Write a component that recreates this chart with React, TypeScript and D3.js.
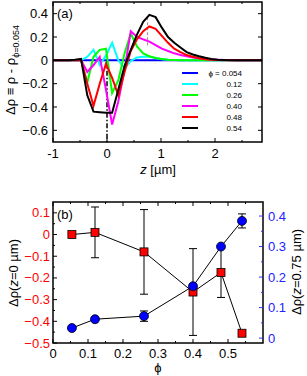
import React from "react";
import * as d3 from "d3";

// ---------- Panel (a) data ----------
const zGrid = [-1.0, -0.7, -0.595, -0.48, -0.365, -0.25, -0.135, -0.02, 0.095, 0.21, 0.325, 0.44, 0.555, 0.67, 0.785, 0.9, 1.015, 1.13, 1.245, 1.36, 1.475, 1.59, 1.705, 1.82, 1.935, 2.05, 2.2, 2.4, 2.6, 2.87];
const rho054 = [0, 0, 0, 0, 0, 0, 0, 0, 0, 0, 0, 0, 0, 0, 0, 0, 0, 0, 0, 0, 0, 0, 0, 0, 0, 0, 0, 0, 0, 0];
const rho012 = [0, 0, 0, 0, 0.03, 0.09, -0.04, 0.04, 0.15, 0.0, -0.07, -0.005, 0.025, 0.03, 0.03, 0.02, 0.01, 0.005, 0.002, 0, 0, 0, 0, 0, 0, 0, 0, 0, 0, 0];
const rho026 = [0, 0, 0, 0, -0.19, 0.03, 0.09, 0.1, -0.28, -0.17, 0.06, 0.23, 0.12, 0.06, 0.035, 0.02, 0.012, 0.006, 0.003, 0.001, 0, 0, 0, 0, 0, 0, 0, 0, 0, 0];
const rho040 = [0, 0, 0, 0, -0.1, -0.04, 0.03, -0.25, -0.55, -0.35, -0.08, 0.25, 0.2, 0.18, 0.16, 0.13, 0.1, 0.08, 0.06, 0.045, 0.035, 0.025, 0.018, 0.012, 0.008, 0.005, 0.002, 0, 0, 0];
const rho048 = [0, 0, 0, 0, -0.2, -0.39, -0.2, -0.03, -0.15, -0.3, -0.1, 0.08, 0.18, 0.25, 0.29, 0.27, 0.21, 0.15, 0.1, 0.07, 0.045, 0.03, 0.018, 0.01, 0.005, 0.002, 0, 0, 0, 0];
const rho054b = [0, 0, 0.005, 0.012, -0.3, -0.44, -0.445, -0.45, -0.45, -0.25, -0.05, 0.09, 0.22, 0.33, 0.39, 0.37, 0.28, 0.2, 0.15, 0.11, 0.07, 0.05, 0.035, 0.022, 0.012, 0.006, 0.002, 0, 0, 0];
const seriesLabels = ["ϕ = 0.054", "0.12", "0.26", "0.40", "0.48", "0.54"];
const seriesColors = ["#0000ff", "#00ffff", "#00ff00", "#ff00ff", "#ff0000", "#000000"];
const seriesValues = [rho054, rho012, rho026, rho040, rho048, rho054b];
const xTicksA = [-1, 0, 1, 2];
const xMinorA = [-0.5, 0.5, 1.5, 2.5];
const yTicksA = [-0.6, -0.4, -0.2, 0, 0.2, 0.4];

// ---------- Panel (b) data ----------
const phiVals = [0.054, 0.12, 0.26, 0.40, 0.48, 0.54];
const rhoAt0 = [0.0, 0.01, -0.08, -0.265, -0.175, -0.455];
const rhoAt0Err = [0, 0.117, 0.195, 0.2, 0.115, 0];
const rhoAt075 = [0.033, 0.062, 0.072, 0.17, 0.3, 0.384];
const rhoAt075Err = [0, 0, 0.017, 0, 0, 0.023];
const xTicksB = [0, 0.1, 0.2, 0.3, 0.4, 0.5];
const yTicksBL = [-0.5, -0.4, -0.3, -0.2, -0.1, 0, 0.1];
const yTicksBR = [0, 0.1, 0.2, 0.3, 0.4];

const FONT = "'Liberation Sans', Arial, Helvetica, sans-serif";

export default function App() {
  // Panel (a) scales
  const xA = d3.scaleLinear().domain([-1, 2.87]).range([53, 262]);
  const yA = d3.scaleLinear().domain([-0.7, 0.5]).range([142, 2]);
  const lineA = d3
    .line<number>()
    .x((_, i) => xA(zGrid[i]))
    .y((d) => yA(d));

  // Panel (b) scales
  const xB = d3.scaleLinear().domain([0, 0.6]).range([53, 263]);
  const yBL = d3.scaleLinear().domain([-0.5, 0.15]).range([343, 202]);
  const yBR = d3.scaleLinear().domain([-0.016, 0.446]).range([343, 202]);
  const lineBL = d3
    .line<number>()
    .x((_, i) => xB(phiVals[i]))
    .y((d) => yBL(d));
  const lineBR = d3
    .line<number>()
    .x((_, i) => xB(phiVals[i]))
    .y((d) => yBR(d));

  const xMinorB = d3.range(0.05, 0.6, 0.1);
  const yMinorBL = d3.range(-0.45, 0.15, 0.1);
  const yMinorBR = d3.range(0.05, 0.45, 0.1);

  const [ax0, ax1] = xA.range();
  const [ay0, ay1] = [yA(0.5), yA(-0.7)];
  const [bx0, bx1] = xB.range();
  const [by0, by1] = [202, 343];

  const legendRows = [73, 84, 95, 106, 117, 128];

  return (
    <svg width={307} height={376} style={{ position: "absolute", left: 0, top: 0 }} fontFamily={FONT}>
      <rect x={0} y={0} width={307} height={376} fill="#fff" />
      {/* ================= Panel (a) ================= */}
      <defs>
        <clipPath id="clipA">
          <rect x={ax0} y={ay0} width={ax1 - ax0} height={ay1 - ay0} />
        </clipPath>
      </defs>
      {/* reference lines */}
      <line x1={xA(0)} x2={xA(0)} y1={yA(0)} y2={yA(-0.7)} stroke="#000" strokeWidth={1.5} strokeDasharray="5,2,1.5,2" />
      <line x1={xA(0.75)} x2={xA(0.75)} y1={yA(0.37)} y2={yA(0.12)} stroke="#b09090" strokeWidth={1.2} strokeDasharray="3,2" />
      <g clipPath="url(#clipA)">
        {seriesValues.map((vals, k) => (
          <path key={k} d={lineA(vals) || ""} fill="none" stroke={seriesColors[k]} strokeWidth={2} strokeLinejoin="miter" />
        ))}
      </g>
      {/* frame */}
      <rect x={ax0} y={ay0} width={ax1 - ax0} height={ay1 - ay0} fill="none" stroke="#000" strokeWidth={1.5} />
      {/* ticks */}
      {xTicksA.map((t) => (
        <g key={"xa" + t}>
          <line x1={xA(t)} x2={xA(t)} y1={ay1} y2={ay1 - 4} stroke="#000" />
          <line x1={xA(t)} x2={xA(t)} y1={ay0} y2={ay0 + 4} stroke="#000" />
          <text x={xA(t)} y={158} fontSize={13} textAnchor="middle">{t === -1 ? "-1" : t}</text>
        </g>
      ))}
      {xMinorA.map((t) => (
        <g key={"xma" + t}>
          <line x1={xA(t)} x2={xA(t)} y1={ay1} y2={ay1 - 2} stroke="#000" />
          <line x1={xA(t)} x2={xA(t)} y1={ay0} y2={ay0 + 2} stroke="#000" />
        </g>
      ))}
      {yTicksA.map((t) => (
        <g key={"ya" + t}>
          <line x1={ax0} x2={ax0 + 4} y1={yA(t)} y2={yA(t)} stroke="#000" />
          <line x1={ax1} x2={ax1 - 4} y1={yA(t)} y2={yA(t)} stroke="#000" />
          <text x={48} y={yA(t) + 4.5} fontSize={13} textAnchor="end">{t === 0 ? "0" : d3.format(".1f")(t)}</text>
        </g>
      ))}
      <text x={57} y={18} fontSize={13}>(a)</text>
      {/* axis titles */}
      <text x={158} y={174} fontSize={13} textAnchor="middle">
        <tspan fontStyle="italic">z</tspan> [µm]
      </text>
      <text transform="translate(15,70) rotate(-90)" fontSize={13} textAnchor="middle">
        Δρ ≡ ρ - ρ<tspan fontSize={9} dy={4}>ϕ=0.054</tspan>
      </text>
      {/* legend */}
      {seriesLabels.map((lab, k) => (
        <g key={"lg" + k}>
          <line x1={182} x2={198} y1={legendRows[k]} y2={legendRows[k]} stroke={seriesColors[k]} strokeWidth={2} />
          <text x={242} y={legendRows[k] + 3} fontSize={8} textAnchor="end">{lab}</text>
        </g>
      ))}

      {/* ================= Panel (b) ================= */}
      {/* error bars */}
      {phiVals.map((p, i) =>
        rhoAt0Err[i] > 0 ? (
          <g key={"e0" + i} stroke="#000" strokeWidth={1}>
            <line x1={xB(p)} x2={xB(p)} y1={yBL(rhoAt0[i] - rhoAt0Err[i])} y2={yBL(rhoAt0[i] + rhoAt0Err[i])} />
            <line x1={xB(p) - 4} x2={xB(p) + 4} y1={yBL(rhoAt0[i] - rhoAt0Err[i])} y2={yBL(rhoAt0[i] - rhoAt0Err[i])} />
            <line x1={xB(p) - 4} x2={xB(p) + 4} y1={yBL(rhoAt0[i] + rhoAt0Err[i])} y2={yBL(rhoAt0[i] + rhoAt0Err[i])} />
          </g>
        ) : null
      )}
      {phiVals.map((p, i) =>
        rhoAt075Err[i] > 0 ? (
          <g key={"e75" + i} stroke="#000" strokeWidth={1}>
            <line x1={xB(p)} x2={xB(p)} y1={yBR(rhoAt075[i] - rhoAt075Err[i])} y2={yBR(rhoAt075[i] + rhoAt075Err[i])} />
            <line x1={xB(p) - 4} x2={xB(p) + 4} y1={yBR(rhoAt075[i] - rhoAt075Err[i])} y2={yBR(rhoAt075[i] - rhoAt075Err[i])} />
            <line x1={xB(p) - 4} x2={xB(p) + 4} y1={yBR(rhoAt075[i] + rhoAt075Err[i])} y2={yBR(rhoAt075[i] + rhoAt075Err[i])} />
          </g>
        ) : null
      )}
      <path d={lineBL(rhoAt0) || ""} fill="none" stroke="#000" strokeWidth={1} />
      <path d={lineBR(rhoAt075) || ""} fill="none" stroke="#000" strokeWidth={1} />
      {phiVals.map((p, i) => (
        <rect key={"sq" + i} x={xB(p) - 4} y={yBL(rhoAt0[i]) - 4} width={8} height={8} fill="#ff0000" stroke="#000" strokeWidth={0.8} />
      ))}
      {phiVals.map((p, i) => (
        <circle key={"ci" + i} cx={xB(p)} cy={yBR(rhoAt075[i])} r={4.5} fill="#0000ff" stroke="#000" strokeWidth={0.8} />
      ))}
      {/* frame */}
      <rect x={bx0} y={by0} width={bx1 - bx0} height={by1 - by0} fill="none" stroke="#000" strokeWidth={1.5} />
      {xTicksB.map((t) => (
        <g key={"xb" + t}>
          <line x1={xB(t)} x2={xB(t)} y1={by1} y2={by1 - 4} stroke="#000" />
          <line x1={xB(t)} x2={xB(t)} y1={by0} y2={by0 + 4} stroke="#000" />
          <text x={xB(t)} y={358} fontSize={13} textAnchor="middle">{t === 0 ? "0" : d3.format(".1f")(t)}</text>
        </g>
      ))}
      {xMinorB.map((t) => (
        <g key={"xmb" + t}>
          <line x1={xB(t)} x2={xB(t)} y1={by1} y2={by1 - 2} stroke="#000" />
          <line x1={xB(t)} x2={xB(t)} y1={by0} y2={by0 + 2} stroke="#000" />
        </g>
      ))}
      {yTicksBL.map((t) => (
        <g key={"ybl" + t}>
          <line x1={bx0} x2={bx0 + 4} y1={yBL(t)} y2={yBL(t)} stroke="#000" />
          <text x={50} y={yBL(t) + 4.5} fontSize={13} textAnchor="end" fill="#ff0000">{t === 0 ? "0" : d3.format(".1f")(t)}</text>
        </g>
      ))}
      {yMinorBL.map((t) => (
        <line key={"ymbl" + t} x1={bx0} x2={bx0 + 2} y1={yBL(t)} y2={yBL(t)} stroke="#000" />
      ))}
      {yTicksBR.map((t) => (
        <g key={"ybr" + t}>
          <line x1={bx1} x2={bx1 - 4} y1={yBR(t)} y2={yBR(t)} stroke="#3333ff" />
          <text x={268} y={yBR(t) + 4.5} fontSize={13} textAnchor="start" fill="#2222ff">{t === 0 ? "0" : d3.format(".1f")(t)}</text>
        </g>
      ))}
      {yMinorBR.map((t) => (
        <line key={"ymbr" + t} x1={bx1} x2={bx1 - 2} y1={yBR(t)} y2={yBR(t)} stroke="#3333ff" />
      ))}
      <text x={57} y={219} fontSize={13}>(b)</text>
      <text x={158} y={372} fontSize={13} textAnchor="middle">ϕ</text>
      <text transform="translate(18,273) rotate(-90)" fontSize={13} textAnchor="middle">
        Δρ(<tspan fontStyle="italic">z</tspan>=0 µm)
      </text>
      <text transform="translate(301,272) rotate(-90)" fontSize={13} textAnchor="middle">
        Δρ(<tspan fontStyle="italic">z</tspan>=0.75 µm)
      </text>
    </svg>
  );
}
